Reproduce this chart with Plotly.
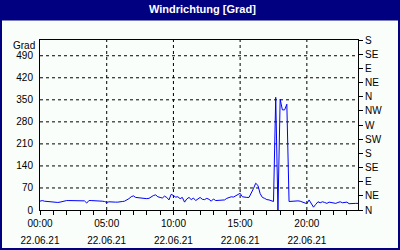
import plotly.graph_objects as go

# --- data (10-minute samples, 22.06.21) ---
minutes = list(range(0, 1440, 10))
direction = [
    28, 30, 28, 27, 26, 26, 26, 25, 24, 25,
    27, 28, 30, 30, 30, 30, 30, 29, 30, 30,
    29, 22, 30, 30, 30, 30, 30, 29, 28, 27,
    24, 26, 25, 25, 25, 25, 25, 27, 28, 31,
    36, 42, 45, 40, 39, 37, 36, 36, 36, 37,
    42, 46, 48, 42, 40, 38, 44, 40, 32, 50,
    46, 41, 42, 36, 40, 25, 35, 40, 33, 38,
    30, 36, 40, 34, 33, 37, 34, 28, 35, 30,
    30, 30, 30, 32, 37, 39, 42, 41, 45, 48,
    53, 42, 40, 40, 40, 52, 68, 85, 78, 52,
    40, 37, 33, 32, 30, 27, 358, 0, 352, 318,
    318, 336, 27, 28, 29, 29, 29, 28, 26, 22,
    20, 32, 22, 9, 18, 26, 23, 26, 24, 21,
    25, 23, 21, 21, 24, 26, 23, 24, 25, 20,
    21, 22, 21, 21,
]
hours = [m / 60 for m in minutes]

x_tick_hours = list(range(0, 24))
x_time_labels = ["00:00", "05:00", "10:00", "15:00", "20:00"]
x_date_label = "22.06.21"
y_ticks = [0, 70, 140, 210, 280, 350, 420, 490]
compass_vals = [0, 45, 90, 135, 180, 225, 270, 315, 360, 405, 450, 495, 540]
compass_text = ["N", "NE", "E", "SE", "S", "SW", "W", "NW", "N", "NE", "E", "SE", "S"]
title_text = "Windrichtung [Grad]"
unit_text = "Grad"

time_ticktext = [x_time_labels[h // 5] if h % 5 == 0 else "" for h in x_tick_hours]
date_ticktext = [x_date_label if h % 5 == 0 else "" for h in x_tick_hours]

W, H = 400, 250
L, R, T, B = 40, 42, 40, 40
pw, ph = W - L - R, H - T - B

def px2paper_x(px):
    return (px - L) / pw

def py2paper_y(py):
    return (H - B - py) / ph

FONT = "Liberation Sans"
BG = "#FAFEFA"
NAVY = "#000080"

fig = go.Figure()
fig.add_trace(go.Scatter(x=hours, y=direction, mode="lines",
                         line=dict(color="#0000FF", width=1),
                         showlegend=False, hoverinfo="skip"))
# companion trace for the secondary axes (invisible)
fig.add_trace(go.Scatter(x=hours, y=direction, mode="lines", xaxis="x2", yaxis="y2",
                         line=dict(color="rgba(0,0,0,0)", width=0),
                         showlegend=False, hoverinfo="skip"))

xr = [0, 23 + 50 / 60]
fig.update_layout(
    width=W, height=H,
    margin=dict(l=L, r=R, t=T, b=B, pad=0, autoexpand=False),
    paper_bgcolor=BG, plot_bgcolor=BG,
    font=dict(family=FONT, size=10, color="black"),
    xaxis=dict(range=xr, tickmode="array", tickvals=x_tick_hours, ticktext=time_ticktext,
               ticks="outside", ticklen=4, tickcolor="black", tickwidth=1,
               showline=True, linecolor="black", linewidth=1, mirror=True,
               showgrid=False, zeroline=False, fixedrange=True, automargin=False),
    xaxis2=dict(range=xr, overlaying="x", side="bottom", anchor="y",
                tickmode="array", tickvals=x_tick_hours, ticktext=date_ticktext,
                ticks="", showline=False, showgrid=False, zeroline=False,
                ticklabelstandoff=23, automargin=False),
    yaxis=dict(range=[0, 540], tickmode="array", tickvals=y_ticks,
               ticks="", ticklabelstandoff=4,
               showline=True, linecolor="black", linewidth=1,
               showgrid=False, zeroline=False, automargin=False),
    yaxis2=dict(range=[0, 540], overlaying="y", side="right", anchor="x",
                tickmode="array", tickvals=compass_vals, ticktext=compass_text,
                ticks="outside", ticklen=4, tickcolor="black",
                showline=True, linecolor="black", linewidth=1,
                showgrid=False, zeroline=False, automargin=False),
)

shapes = []
# dashed grid lines
for v in y_ticks[1:]:
    shapes.append(dict(type="line", xref="paper", yref="y", x0=0, x1=1, y0=v, y1=v,
                       line=dict(color="black", width=1, dash="3px,3px"), layer="below"))
for hh in [5, 10, 15, 20]:
    shapes.append(dict(type="line", xref="x", yref="paper", x0=hh, x1=hh, y0=0, y1=1,
                       line=dict(color="black", width=1, dash="3px,3px"), layer="below"))
# title bar
shapes.append(dict(type="rect", xref="paper", yref="paper",
                   x0=px2paper_x(0), x1=px2paper_x(W), y0=py2paper_y(20.5), y1=py2paper_y(0),
                   fillcolor=NAVY, line=dict(width=0), layer="above"))
# outer border
shapes.append(dict(type="rect", xref="paper", yref="paper",
                   x0=px2paper_x(1), x1=px2paper_x(W - 1), y0=py2paper_y(H - 1), y1=py2paper_y(1),
                   fillcolor="rgba(0,0,0,0)", line=dict(color=NAVY, width=2), layer="above"))
fig.update_layout(shapes=shapes)

fig.add_annotation(text="<b>" + title_text + "</b>", xref="paper", yref="paper",
                   x=px2paper_x(W / 2 + 2), y=py2paper_y(9), xanchor="center", yanchor="middle",
                   showarrow=False, font=dict(family=FONT, size=11, color="white"))
fig.add_annotation(text=unit_text, xref="paper", yref="paper",
                   x=px2paper_x(37), y=py2paper_y(45), xanchor="right", yanchor="middle",
                   showarrow=False, font=dict(family=FONT, size=10, color="black"))

fig.write_html("out.html")
